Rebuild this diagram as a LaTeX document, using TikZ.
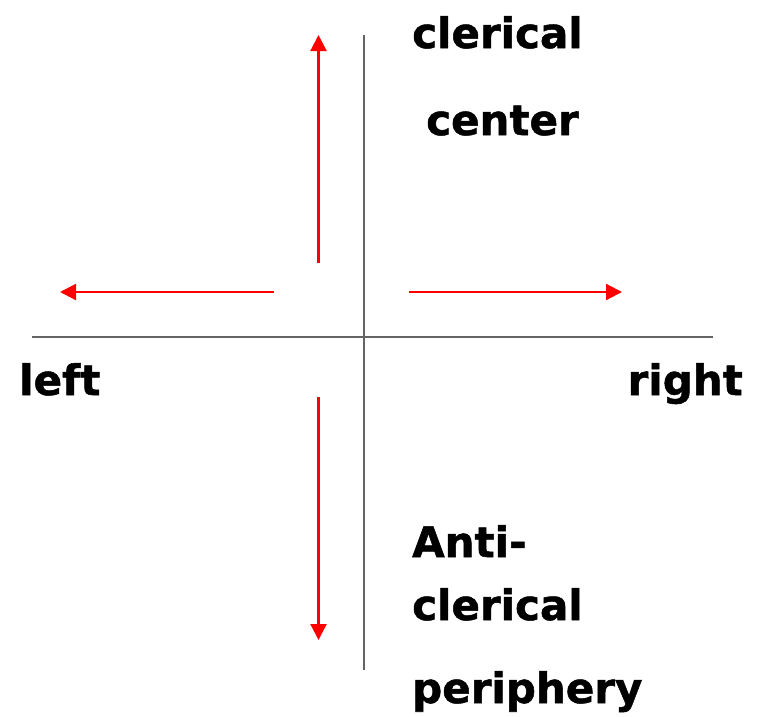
\documentclass[tikz,border=0pt]{standalone}
\usepackage{fontspec}
\setmainfont{DejaVu Sans}[BoldFeatures={FakeBold=1.2}]
\usepackage{xcolor}
\usetikzlibrary{arrows.meta,positioning}
\definecolor{AxisGray}{RGB}{100,100,100}
\definecolor{DirRed}{RGB}{255,0,0}
\tikzset{
  axis/.style={line width=2pt,AxisGray},
  dir/.style={-{Triangle[length=16pt,width=16pt]},line width=2.2pt,DirRed},
  lbl/.style={font=\fontsize{42}{50}\selectfont\bfseries,inner sep=0pt},
}

\begin{document}
\begin{tikzpicture}[x=1pt,y=-1pt]
  \useasboundingbox (0,0) rectangle (760,716);
  % axes
  \coordinate (vtop) at (364,35);
  \coordinate (vbot) at (364,670);
  \coordinate (hl) at (32,337);
  \coordinate (hr) at (713,337);
  \draw[axis] (vtop) -- (vbot);
  \draw[axis] (hl) -- (hr);
  % arrow ends
  \coordinate (upS) at (318.5,263);
  \coordinate (upE) at (318.5,35);
  \coordinate (dnS) at (318.5,397);
  \coordinate (dnE) at (318.5,640);
  \coordinate (ltS) at (274,292);
  \coordinate (ltE) at (60,292);
  \coordinate (rtS) at (409,292);
  \coordinate (rtE) at (622,292);
  \draw[dir] (upS) -- (upE);
  \draw[dir] (dnS) -- (dnE);
  \draw[dir] (ltS) -- (ltE);
  \draw[dir] (rtS) -- (rtE);
  % labels
  \node[lbl,anchor=base west] (cler) at (412,48) {clerical};
  \node[lbl,anchor=base west] (cent) at (426,135) {center};
  \node[lbl,anchor=base west] (lft) at (19,395) {left};
  \node[lbl,anchor=base east] (rgt) at (743,395) {right};
  \node[lbl,anchor=base west] (anti) at (412,557) {Anti-};
  \node[lbl,anchor=base west] (acler) at (412,620) {clerical};
  \node[lbl,anchor=base west] (peri) at (412,703) {periphery};
\end{tikzpicture}
\end{document}
